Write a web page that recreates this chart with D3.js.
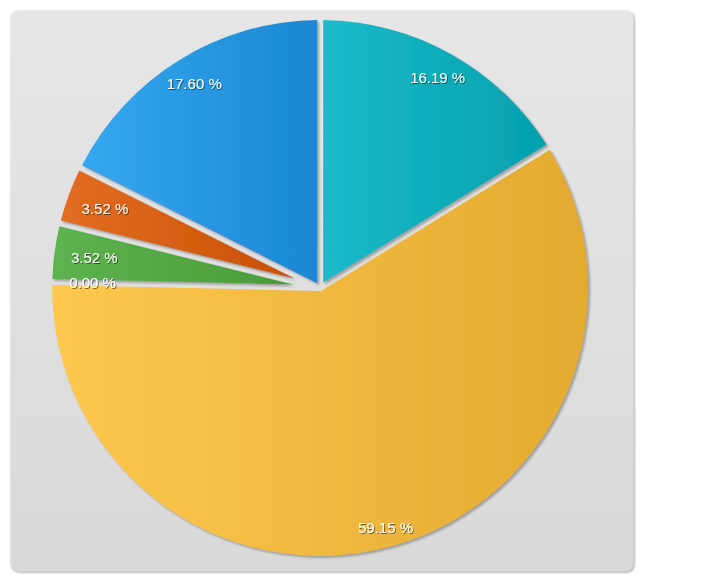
<!DOCTYPE html>
<html>
<head>
<meta charset="utf-8">
<script src="https://cdnjs.cloudflare.com/ajax/libs/d3/7.8.5/d3.min.js"></script>
<style>
body { margin: 0; background: #fff; }
text { font-family: "Liberation Sans", Arial, sans-serif; }
</style>
</head>
<body>
<div id="vis"></div>
<script>
var width = 720,
    height = 580;

//----------DATA---------//
// slices clockwise from 12 o'clock
var sliceKeys = ["teal", "yellow", "none", "green", "orange", "blue"];
var sliceValues = [16.19, 59.15, 0.00, 3.52, 3.52, 17.60];
var lightColors = ["#1bbac9", "#fec84f", "#cccccc", "#5db350", "#e26d22", "#36a8f0"];
var darkColors = ["#03a0ad", "#e3aa2f", "#aaaaaa", "#4a9b36", "#c85102", "#1a87d4"];

//Layout vars
var cx = 320.2, cy = 288;
var outerR = 268;
var gapHalf = 3;   // half width of the straight gap between slices

var svg = d3.select("#vis").append("svg")
    .attr("width", width)
    .attr("height", height);

var defs = svg.append("defs");

// panel background
var panelGrad = defs.append("linearGradient")
    .attr("id", "panelGrad")
    .attr("x1", 0).attr("y1", 0).attr("x2", 0).attr("y2", 1);
panelGrad.append("stop").attr("offset", "0%").attr("stop-color", "#e6e6e6");
panelGrad.append("stop").attr("offset", "100%").attr("stop-color", "#d9d9d9");

var panelShadow = defs.append("filter").attr("id", "panelShadow")
    .attr("x", "-5%").attr("y", "-5%").attr("width", "110%").attr("height", "110%");
panelShadow.append("feDropShadow")
    .attr("dx", 1).attr("dy", 1).attr("stdDeviation", 0.8)
    .attr("flood-color", "#777").attr("flood-opacity", 0.7);

var sliceShadow = defs.append("filter").attr("id", "sliceShadow")
    .attr("x", "-10%").attr("y", "-10%").attr("width", "120%").attr("height", "120%");
sliceShadow.append("feDropShadow")
    .attr("dx", 2).attr("dy", 2).attr("stdDeviation", 0.8)
    .attr("flood-color", "#8a8a8a").attr("flood-opacity", 0.75);

var textShadow = defs.append("filter").attr("id", "textShadow")
    .attr("x", "-10%").attr("y", "-20%").attr("width", "130%").attr("height", "150%");
textShadow.append("feDropShadow")
    .attr("dx", 1).attr("dy", 1).attr("stdDeviation", 0.5)
    .attr("flood-color", "#000").attr("flood-opacity", 0.5);

// one horizontal gradient per slice
sliceKeys.forEach(function(k, i) {
    var g = defs.append("linearGradient")
        .attr("id", "grad-" + k)
        .attr("x1", 0).attr("y1", 0).attr("x2", 1).attr("y2", 0);
    g.append("stop").attr("offset", "0%").attr("stop-color", lightColors[i]);
    g.append("stop").attr("offset", "100%").attr("stop-color", darkColors[i]);
});

svg.append("rect")
    .attr("x", 10.5)
    .attr("y", 10.5)
    .attr("width", 623)
    .attr("height", 561)
    .attr("rx", 8)
    .attr("fill", "url(#panelGrad)")
    .attr("filter", "url(#panelShadow)");

//----------PIE---------//
var pie = d3.pie()
    .sort(null)
    .value(function(d) { return d; })
    .startAngle(0)
    .endAngle(2 * Math.PI);

var arcs = pie(sliceValues);

// slice with parallel gaps: both radial edges pushed in by gapHalf,
// so thin slices lose their tip near the centre
function slicePath(d) {
    var a0 = d.startAngle, a1 = d.endAngle;
    var half = (a1 - a0) / 2, mid = a0 + half;
    var t = gapHalf / Math.sin(half);
    var delta = Math.asin(gapHalf / outerR);
    var p = d3.path();
    p.moveTo(t * Math.sin(mid), -t * Math.cos(mid));
    p.arc(0, 0, outerR, a0 + delta - Math.PI / 2, a1 - delta - Math.PI / 2, false);
    p.closePath();
    return p.toString();
}

var slices = svg.append("g")
    .attr("class", "slices")
    .attr("transform", "translate(" + cx + "," + cy + ")");

slices.selectAll("path")
    .data(arcs.filter(function(d) { return d.value > 0; }))
    .enter()
    .append("path")
    .attr("d", slicePath)
    .attr("fill", function(d) { return "url(#grad-" + sliceKeys[d.index] + ")"; })
    .attr("filter", "url(#sliceShadow)");

//----------LABELS---------//
var labels = svg.append("g")
    .attr("class", "labels")
    .attr("transform", "translate(" + cx + "," + cy + ")");

var label = labels.selectAll("text")
    .data(arcs)
    .enter()
    .append("text")
    .attr("text-anchor", "middle")
    .attr("dy", "0.35em")
    .style("font-size", "15px")
    .style("fill", "#fff")
    .attr("filter", "url(#textShadow)")
    .text(function(d) { return d.value.toFixed(2) + " %"; });

// keep the label box inside the rim
label.each(function(d) {
    var a = (d.startAngle + d.endAngle) / 2;
    var ux = Math.sin(a), uy = -Math.cos(a);
    var hw = this.getComputedTextLength() / 2 + 7;
    var R = outerR - 10 - Math.abs(ux) * hw;
    d3.select(this)
        .attr("x", R * ux)
        .attr("y", R * uy);
});
</script>
</body>
</html>
